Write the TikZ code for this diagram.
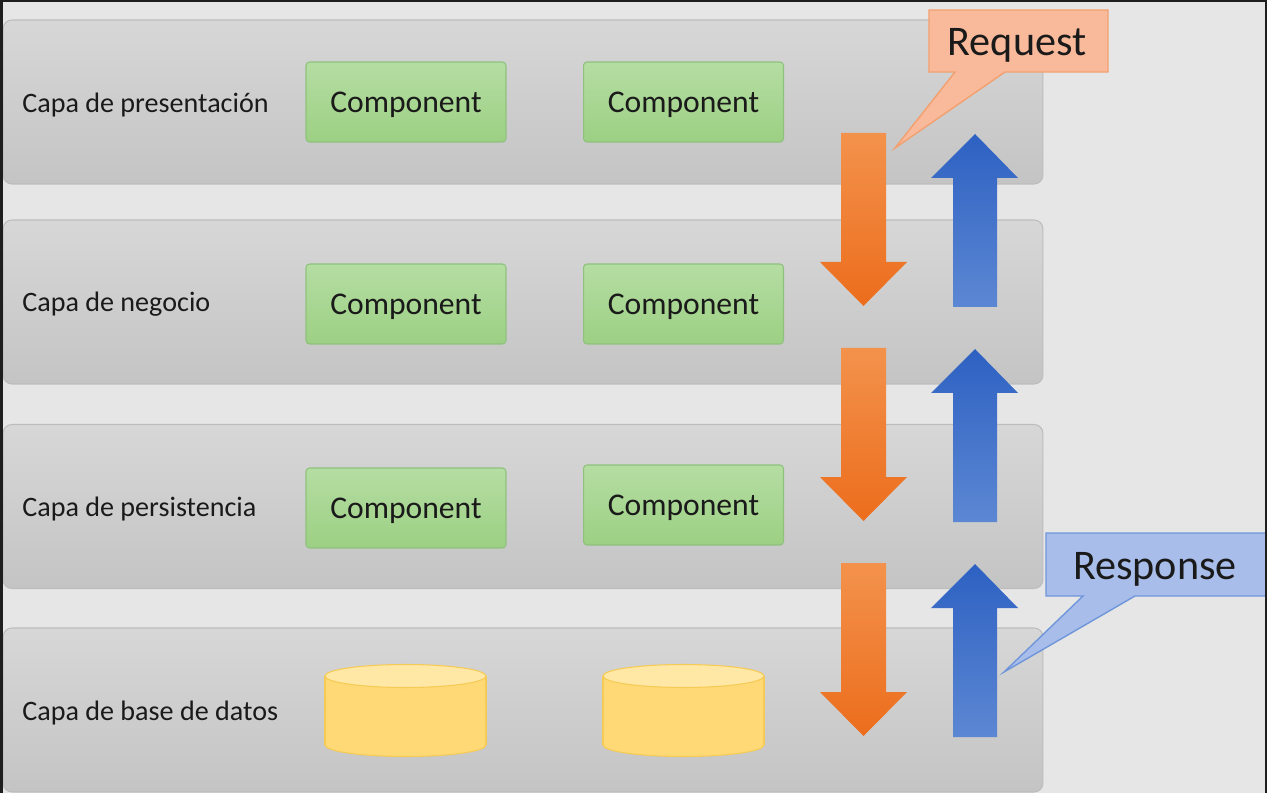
\documentclass[tikz,border=0pt]{standalone}
\usepackage{fontspec}
\setmainfont{Carlito}
\definecolor{bg}{HTML}{E6E6E6}
\definecolor{layA}{HTML}{D7D7D7}
\definecolor{layB}{HTML}{C4C4C4}
\definecolor{layD}{HTML}{BDBDBD}
\definecolor{compA}{HTML}{B5DDA3}
\definecolor{compB}{HTML}{9CD083}
\definecolor{compD}{HTML}{8EC27C}
\definecolor{cylBody}{HTML}{FFD975}
\definecolor{cylTop}{HTML}{FFE7A6}
\definecolor{cylD}{HTML}{F5CB55}
\definecolor{orA}{HTML}{F3924C}
\definecolor{orB}{HTML}{EC6D1C}
\definecolor{blA}{HTML}{2D61C2}
\definecolor{blB}{HTML}{5C87D3}
\definecolor{reqF}{HTML}{F8BA9B}
\definecolor{reqD}{HTML}{F3A06F}
\definecolor{resF}{HTML}{A8BDEA}
\definecolor{resD}{HTML}{7096DA}
\definecolor{txt}{HTML}{1A1A1A}
\definecolor{frame}{HTML}{1E1E1E}
\tikzset{
  layerbox/.style={draw=layD, line width=0.6pt, rounded corners=5pt, top color=layA, bottom color=layB,
    minimum width=20.8cm, minimum height=3.28cm, inner sep=0pt},
  lbl/.style={anchor=west, text=txt, font=\fontsize{16}{18}\selectfont, inner sep=0pt, yshift=-1.1pt},
  comp/.style={draw=compD, line width=0.6pt, rounded corners=2pt, top color=compA, bottom color=compB,
    minimum width=4cm, minimum height=1.6cm, text=txt, font=\fontsize{18}{20}\selectfont,
    text height=13pt, text depth=1pt},
  calltxt/.style={text=txt, font=\fontsize{24}{26}\selectfont, inner sep=0pt, yshift=-1.7pt},
}
\begin{document}
\begin{tikzpicture}[x=0.02cm,y=-0.02cm]
\useasboundingbox (0,0) rectangle (1267,793);
\fill[bg] (0,0) rectangle (1267,793);
% layers
\node[layerbox] (L1) at (523,102) {};
\node[layerbox] (L2) at (523,302) {};
\node[layerbox] (L3) at (523,506.5) {};
\node[layerbox] (L4) at (523,710) {};
% labels
\node[lbl] (t1) at (22,103) {Capa de presentación};
\node[lbl] (t2) at (22,302) {Capa de negocio};
\node[lbl] (t3) at (22,507) {Capa de persistencia};
\node[lbl] (t4) at (22,711) {Capa de base de datos};
% components
\node[comp] (c11) at (406,102) {Component};
\node[comp] (c12) at (683.5,102) {Component};
\node[comp] (c21) at (406,304) {Component};
\node[comp] (c22) at (683.5,304) {Component};
\node[comp] (c31) at (406,508) {Component};
\node[comp] (c32) at (683.5,505) {Component};
% cylinders
\foreach \cx/\nm in {405.5/db1, 683.5/db2}{
  \fill[cylBody, draw=cylD, line width=0.6pt] (\cx,745) ellipse [x radius=80.5, y radius=11.5];
  \fill[cylBody] (\cx-80.5,676) rectangle (\cx+80.5,745);
  \draw[cylD, line width=0.6pt] (\cx-80.5,676) -- (\cx-80.5,745) (\cx+80.5,676) -- (\cx+80.5,745);
  \fill[cylTop, draw=cylD, line width=0.6pt] (\cx,676) ellipse [x radius=80.5, y radius=11.5];
  \coordinate (\nm) at (\cx,710);
}
% orange down arrows
\foreach \d in {0,215,430}{
  \shade[top color=orA, bottom color=orB]
    (841,133+\d) -- (886,133+\d) -- (886,262+\d) -- (907,262+\d) -- (863.5,306+\d)
    -- (820,262+\d) -- (841,262+\d) -- cycle;
}
% blue up arrows
\foreach \d in {0,215,430}{
  \shade[top color=blA, bottom color=blB]
    (975,134+\d) -- (1018,178+\d) -- (997,178+\d) -- (997,307+\d) -- (953,307+\d)
    -- (953,178+\d) -- (931,178+\d) -- cycle;
}
% callouts
\draw[fill=reqF, draw=reqD, line width=0.8pt]
  (929,10) -- (1108,10) -- (1108,72) -- (1005,72) -- (895,148) -- (955,72) -- (929,72) -- cycle;
\node[calltxt] (req) at (1017,42) {Request};
\draw[fill=resF, draw=resD, line width=0.8pt]
  (1046,533) -- (1266,533) -- (1266,596) -- (1135,596) -- (1004,672) -- (1083,596) -- (1046,596) -- cycle;
\node[calltxt] (res) at (1155,566) {Response};
% frame
\fill[frame] (0,0) rectangle (3,793);
\fill[frame] (0,0) rectangle (1267,2);
\fill[frame] (1265,0) rectangle (1267,793);
\end{tikzpicture}
\end{document}
